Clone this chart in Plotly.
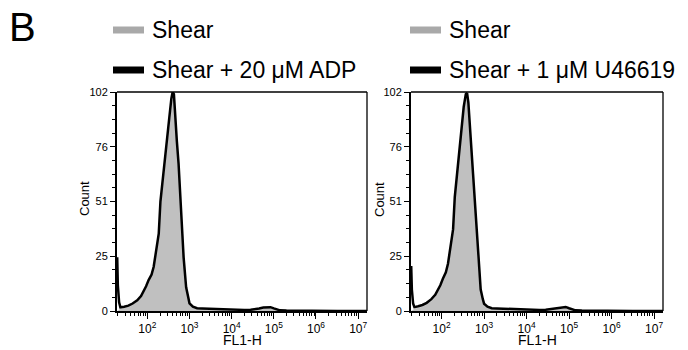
import plotly.graph_objects as go

# ---- data (log10 of FL1-H channel, counts) ----
log_fl1 = [1.285, 1.30, 1.33, 1.36, 1.45, 1.55, 1.65, 1.76, 1.85, 1.91, 1.97, 2.03, 2.10, 2.15,
           2.20, 2.27, 2.31, 2.38, 2.45, 2.52, 2.57, 2.60, 2.63, 2.66, 2.70, 2.74, 2.79, 2.82,
           2.86, 2.92, 2.97, 3.00, 3.08, 3.18, 3.30, 3.50, 3.70, 3.90, 4.10, 4.30, 4.45, 4.56,
           4.65, 4.75, 4.85, 4.92, 5.00, 5.08, 5.15, 5.30, 5.60, 6.00, 6.50, 7.00, 7.21]

shear_a = [0, 0, 0.5, 1, 1.5, 2, 3, 4.3, 6, 8, 10.5, 13, 16, 19.5, 26, 34, 48, 61, 74, 88, 97,
           100, 99, 87, 77, 66, 50, 40, 23, 9.5, 5, 3, 1.5, 1, 0.9, 0.7, 0.6, 0.5, 0.4, 0.4,
           0.5, 0.6, 1.0, 1.3, 1.5, 1.4, 1.0, 0.5, 0.2, 0.1, 0, 0, 0, 0, 0]
adp = [25, 12, 4, 1.7, 2, 2.5, 3.5, 5, 7, 9, 11.5, 14.4, 17, 20.6, 27, 36, 51, 63, 76.5, 90, 99,
       102, 101, 89, 79, 68.8, 52, 42, 25, 11, 6, 3.6, 2, 1.3, 1.2, 1, 0.8, 0.7, 0.5, 0.5,
       0.6, 0.8, 1.2, 1.6, 1.9, 1.8, 1.2, 0.6, 0.3, 0.2, 0.1, 0, 0, 0, 0]

shear_b = [0, 0, 0.5, 1, 1.5, 2, 3, 4.5, 6.5, 8.5, 11, 13.5, 17, 21, 28, 37, 51, 65, 80, 93, 99,
           98, 94, 84, 74, 62, 47, 37, 21, 8.5, 4.5, 2.8, 1.5, 1, 0.9, 0.7, 0.6, 0.5, 0.4, 0.4,
           0.5, 0.7, 1.1, 1.4, 1.6, 1.5, 1.0, 0.5, 0.2, 0.1, 0, 0, 0, 0, 0]
u46619 = [21, 10, 3.5, 1.8, 2.2, 2.8, 3.8, 5.5, 7.5, 9.5, 12, 15, 18, 22, 29, 38, 53, 67, 82, 95,
          101, 101.5, 97, 86, 76, 64, 49, 39, 23, 10, 5.5, 3.4, 2, 1.3, 1.2, 1, 0.8, 0.7, 0.5,
          0.5, 0.6, 0.9, 1.3, 1.7, 2.0, 1.9, 1.3, 0.6, 0.3, 0.2, 0.1, 0, 0, 0, 0]

y_tick_vals = [0, 25.5, 51, 76.5, 102]
y_tick_text = ["0", "25", "51", "76", "102"]
x_tick_vals = [1e2, 1e3, 1e4, 1e5, 1e6, 1e7]
x_tick_text = ["10<sup>2</sup>", "10<sup>3</sup>", "10<sup>4</sup>", "10<sup>5</sup>",
               "10<sup>6</sup>", "10<sup>7</sup>"]
legend_left = ["Shear", "Shear + 20 \u03bcM ADP"]
legend_right = ["Shear", "Shear + 1 \u03bcM U46619"]

fl1 = [10 ** v for v in log_fl1]

# page has an 8px body margin: figure fits the remaining window
OFF = 8
W, H = 688 - OFF, 350 - OFF
def px(x):
    return (x - OFF) / W
def py(y):
    return 1 - (y - OFF) / H

FONT = "Liberation Sans, Arial, sans-serif"
GRAY_FILL = "#c0c0c0"
GRAY_SWATCH = "#a9a9a9"

fig = go.Figure()
panels = [("x", "y", shear_a, adp), ("x2", "y2", shear_b, u46619)]
for xa, ya, g, b in panels:
    fig.add_trace(go.Scatter(x=fl1, y=g, xaxis=xa, yaxis=ya, mode="lines",
                             line=dict(color=GRAY_FILL, width=0.5), fill="tozeroy",
                             fillcolor=GRAY_FILL, showlegend=False))
    fig.add_trace(go.Scatter(x=fl1, y=b, xaxis=xa, yaxis=ya, mode="lines",
                             line=dict(color="black", width=2.5), showlegend=False))

left_dom = [px(117), px(367)]
right_dom = [px(411), px(663)]
y_dom = [py(311), py(92)]

minor_x = [m * 10 ** k for k in range(1, 8) for m in range(2, 10) if m * 10 ** k < 10 ** 7.21]
minor_y = [i * 6.375 for i in range(17) if i % 4 != 0]

def xaxis(dom, anchor):
    return dict(type="log", domain=dom, anchor=anchor, range=[1.28, 7.21], automargin=False,
                showgrid=False, zeroline=False, showline=True, linecolor="black", linewidth=2,
                ticks="outside", ticklen=6, tickwidth=1.2, tickcolor="black",
                tickvals=x_tick_vals, ticktext=x_tick_text,
                tickfont=dict(family=FONT, size=12, color="black"),
                minor=dict(tickvals=minor_x, ticks="outside", ticklen=3, tickwidth=1,
                           tickcolor="black", showgrid=False))

def yaxis(anchor):
    return dict(domain=y_dom, anchor=anchor, range=[0, 102], showgrid=False, zeroline=False,
                automargin=False,
                showline=True, linecolor="black", linewidth=2,
                ticks="outside", ticklen=5, tickwidth=1.2, tickcolor="black",
                tickvals=y_tick_vals, ticktext=y_tick_text,
                tickfont=dict(family=FONT, size=11, color="black"),
                minor=dict(tickvals=minor_y, ticks="outside", ticklen=3, tickwidth=1,
                           tickcolor="black", showgrid=False))

fig.update_layout(
    width=W, height=H, margin=dict(l=0, r=0, t=0, b=0, autoexpand=False),
    paper_bgcolor="white", plot_bgcolor="white", showlegend=False,
    xaxis=xaxis(left_dom, "y"), yaxis=yaxis("x"),
    xaxis2=xaxis(right_dom, "y2"), yaxis2=yaxis("x2"),
)

# top / right frame lines and axis titles
for xr, yr, xc in [("x domain", "y domain", 242), ("x2 domain", "y2 domain", 537)]:
    fig.add_shape(type="line", xref=xr, yref=yr, x0=0, x1=1, y0=1, y1=1,
                  line=dict(color="black", width=1.3))
    fig.add_shape(type="line", xref=xr, yref=yr, x0=1, x1=1, y0=0, y1=1,
                  line=dict(color="black", width=1.3))
    fig.add_annotation(text="FL1-H", xref="paper", yref="paper", x=px(xc), y=py(340),
                       xanchor="center", yanchor="middle", showarrow=False,
                       font=dict(family=FONT, size=14, color="black"))
    fig.add_annotation(text="Count", xref="paper", yref="paper", x=px(xc - 158), y=py(199),
                       xanchor="center", yanchor="middle", showarrow=False, textangle=-90,
                       font=dict(family=FONT, size=13, color="black"))

# panel letter
fig.add_annotation(text="B", xref="paper", yref="paper", x=px(8), y=py(27),
                   xanchor="left", yanchor="middle", showarrow=False, borderpad=0,
                   font=dict(family=FONT, size=40, color="black"))

# legends
for x0, labels in [(113, legend_left), (410, legend_right)]:
    for yy, col, lab in [(30, GRAY_SWATCH, labels[0]), (70, "black", labels[1])]:
        fig.add_shape(type="rect", xref="paper", yref="paper",
                      x0=px(x0), x1=px(x0 + 31), y0=py(yy + 3.5), y1=py(yy - 3.5),
                      fillcolor=col, line=dict(width=0))
        fig.add_annotation(text=lab, xref="paper", yref="paper", x=px(x0 + 37),
                           y=py(yy), xanchor="left", yanchor="middle", showarrow=False,
                           font=dict(family=FONT, size=23, color="black"))

fig.write_html("out.html")
